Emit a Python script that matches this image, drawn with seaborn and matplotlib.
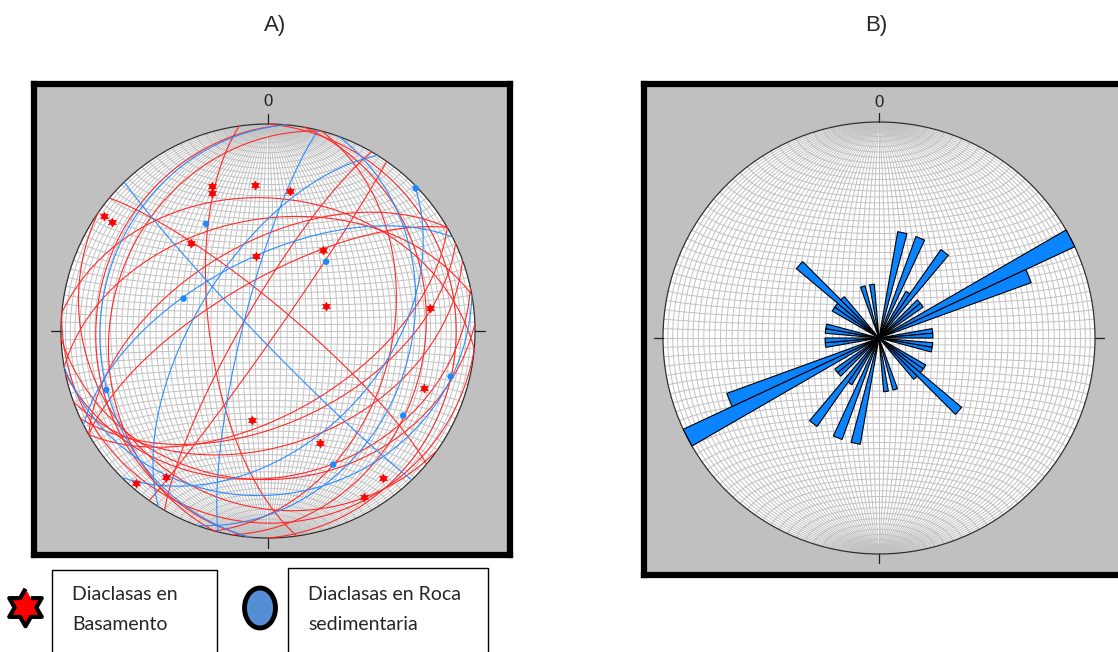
import numpy as np
import pandas as pd
import seaborn as sns
import matplotlib.pyplot as plt
from matplotlib.patches import Rectangle, Ellipse, Circle, Polygon
from matplotlib.lines import Line2D

sns.set_style("white")
plt.rcParams['font.family'] = ['Liberation Sans', 'DejaVu Sans']

# Panel A: planos (direccion de buzamiento / buzamiento)
red_dipdir = [262, 125, 300, 100, 275, 285, 150, 155, 160, 168, 178, 185, 5, 40, 350, 330, 330, 90, 105, 215]
red_dip = [67, 87, 80, 25, 18, 25, 57, 53, 44, 30, 29, 8, 36, 80, 45, 70, 55, 10, 40, 18]
blue_dipdir = [110, 284, 302, 226, 333, 275, 135, 170]
blue_dip = [32, 80, 62, 86, 61, 20, 45, 22]

# Panel A: polos (trend / plunge)
red_trend = [339, 338, 355, 9, 305, 305, 319, 351, 34, 67, 82, 110, 190, 155, 215, 221, 142, 150]
red_plunge = [26, 29, 30, 32, 4, 9, 43, 60, 51, 65, 22, 21, 54, 40, 15, 3, 11, 8]
blue_trend = [46, 330, 40, 291, 250, 104, 122, 154]
blue_plunge = [1, 40, 54, 54, 18, 10, 24, 29]

# Panel B: diagrama de rosas (clases de 5 grados, datos axiales)
rose_bin_start = [10, 20, 30, 35, 45, 50, 60, 65, 80, 85, 95, 100, 120, 125, 130, 135, 160, 170]
rose_count = [2, 2, 1, 2, 1, 1, 4, 3, 1, 1, 1, 1, 1, 1, 2, 1, 1, 1]
rose_width = 5
rose_max = 4

W, H = 1118, 652
fig = plt.figure(figsize=(W / 100, H / 100), dpi=100)

grid_color = '#c2c2c2'
grid_step = 2.5
red_line = '#ff2a2a'
blue_line = '#2b8cff'


def project(x, y, z):
    # Schmidt (equal area), hemisferio inferior, radio 1
    k = 1 / np.sqrt(1 + z)
    return x * k, y * k


def line_xy(trend, plunge):
    t = np.radians(np.asarray(trend, dtype=float))
    p = np.radians(np.asarray(plunge, dtype=float))
    return project(np.cos(p) * np.sin(t), np.cos(p) * np.cos(t), np.sin(p))


def plane_xy(dipdir, dip):
    a = np.radians(np.linspace(0, 180, 181))
    dd = np.radians(dipdir)
    d = np.radians(dip)
    s = np.array([np.sin(dd - np.pi / 2), np.cos(dd - np.pi / 2), 0.0])
    v = np.array([np.cos(d) * np.sin(dd), np.cos(d) * np.cos(dd), np.sin(d)])
    pts = np.outer(np.cos(a), s) + np.outer(np.sin(a), v)
    return project(pts[:, 0], pts[:, 1], np.clip(pts[:, 2], 0, 1))


def make_panel(box, center, R):
    l, t, r, b = box
    cx, cy = center
    ax = fig.add_axes([l / W, 1 - b / H, (r - l) / W, (b - t) / H])
    ax.set_xlim((l - cx) / R, (r - cx) / R)
    ax.set_ylim((cy - b) / R, (cy - t) / R)
    ax.set_facecolor('#c0c0c0')
    ax.set_xticks([])
    ax.set_yticks([])
    for sp in ax.spines.values():
        sp.set_visible(True)
        sp.set_color('black')
        sp.set_linewidth(4.5)
    return ax


def draw_net(ax, tick_len, label_y):
    ax.add_patch(Circle((0, 0), 1, facecolor='white', edgecolor='none', zorder=1))
    steps = np.arange(-90 + grid_step, 90, grid_step)
    ph = np.radians(np.linspace(-90, 90, 240))
    for lam in steps:
        lr = np.radians(lam)
        X, Y = project(np.cos(ph) * np.sin(lr), np.sin(ph), np.cos(ph) * np.cos(lr))
        ax.plot(X, Y, color=grid_color, lw=0.7, zorder=2)
    lr = np.radians(np.linspace(-90, 90, 240))
    for phi in steps:
        pr = np.radians(phi)
        X, Y = project(np.cos(pr) * np.sin(lr), np.full_like(lr, np.sin(pr)), np.cos(pr) * np.cos(lr))
        ax.plot(X, Y, color=grid_color, lw=0.7, zorder=2)
    ax.add_patch(Circle((0, 0), 1, fill=False, edgecolor='#303030', lw=0.9, zorder=3))
    k = 1 + tick_len
    for xs, ys in [([0, 0], [1, k]), ([0, 0], [-1, -k]), ([1, k], [0, 0]), ([-1, -k], [0, 0])]:
        ax.plot(xs, ys, color='#202020', lw=0.9, zorder=3)
    ax.text(0, label_y, '0', ha='center', va='center', fontsize=12, color='#202020')


# hexagrama (estrella de 6 puntas)
ang = np.radians(np.arange(0, 360, 30) + 90)
rad = np.where(np.arange(12) % 2 == 0, 1.0, 1 / np.sqrt(3))
hexagram = np.column_stack([rad * np.cos(ang), rad * np.sin(ang)])

# ---------------- Panel A ----------------
axA = make_panel((34, 84, 510, 555), (268, 331), 207)
draw_net(axA, 0.05, 1.11)

for dd, d in zip(red_dipdir, red_dip):
    X, Y = plane_xy(dd, d)
    axA.plot(X, Y, color=red_line, lw=0.8, zorder=4)
for dd, d in zip(blue_dipdir, blue_dip):
    X, Y = plane_xy(dd, d)
    axA.plot(X, Y, color=blue_line, lw=0.8, zorder=4)

rx, ry = line_xy(red_trend, red_plunge)
bx, by = line_xy(blue_trend, blue_plunge)
df_red = pd.DataFrame({'x': rx, 'y': ry})
df_blue = pd.DataFrame({'x': bx, 'y': by})
sns.scatterplot(data=df_red, x='x', y='y', ax=axA, marker=hexagram, s=45, color='#ff0000',
                edgecolor='#ff0000', linewidth=0.3, zorder=5, legend=False)
sns.scatterplot(data=df_blue, x='x', y='y', ax=axA, marker='o', s=22, color='#1e88ff',
                edgecolor='none', zorder=5, legend=False)
axA.set_xlabel('')
axA.set_ylabel('')

# ---------------- Panel B ----------------
axB = make_panel((644, 84, 1125, 575), (879, 338), 216)
draw_net(axB, 0.04, 1.09)

for b0, c in zip(rose_bin_start, rose_count):
    r = c / rose_max
    for base in (b0, b0 + 180):
        a1 = np.radians(base)
        a2 = np.radians(base + rose_width)
        pts = [(0, 0), (r * np.sin(a1), r * np.cos(a1)), (r * np.sin(a2), r * np.cos(a2))]
        axB.add_patch(Polygon(pts, closed=True, facecolor='#0a84ff', edgecolor='black',
                              lw=0.8, zorder=5))

# ---------------- Titulos ----------------
fig.text(275 / W, 1 - 25 / H, 'A)', ha='center', va='center', fontsize=16)
fig.text(876 / W, 1 - 25 / H, 'B)', ha='center', va='center', fontsize=16)

# ---------------- Leyenda ----------------
fig.add_artist(Line2D([25 / W], [1 - 607 / H], transform=fig.transFigure, marker=hexagram,
                      markersize=27, markerfacecolor='#ff0000', markeredgecolor='black',
                      markeredgewidth=3, linestyle='none'))
fig.add_artist(Rectangle((52 / W, -0.05), (217 - 52) / W, (652 - 570) / H + 0.05,
                         transform=fig.transFigure, fill=False, edgecolor='black', lw=1))
fig.add_artist(Ellipse((260 / W, 1 - 608 / H), 31 / W, 40 / H, transform=fig.transFigure,
                       facecolor='#558ed5', edgecolor='black', lw=3.5))
fig.add_artist(Rectangle((288 / W, -0.05), (488 - 288) / W, (652 - 568) / H + 0.05,
                         transform=fig.transFigure, fill=False, edgecolor='black', lw=1))

legend_font = ['Lato', 'DejaVu Sans']
fig.text(72 / W, 1 - 595 / H, 'Diaclasas en', family=legend_font, fontsize=14, va='center')
fig.text(72 / W, 1 - 625 / H, 'Basamento', family=legend_font, fontsize=14, va='center')
fig.text(308 / W, 1 - 594 / H, 'Diaclasas en Roca', family=legend_font, fontsize=14, va='center')
fig.text(308 / W, 1 - 624 / H, 'sedimentaria', family=legend_font, fontsize=14, va='center')

fig.savefig('out.png', dpi=100)
